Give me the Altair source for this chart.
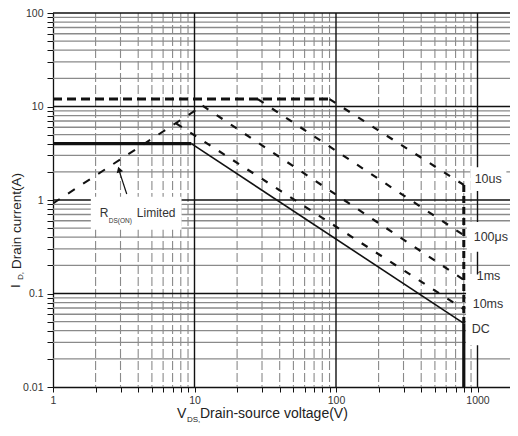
import altair as alt
import pandas as pd

# ---------------- axis structure ----------------
PLOT_W, PLOT_H = 457, 374
X_MIN, X_MAX = 1, 1697
Y_MIN, Y_MAX = 0.01, 100
x_decades = [1, 10, 100, 1000]
y_decades = [0.01, 0.1, 1, 10, 100]
minor_mult = [2, 3, 4, 5, 6, 7, 8, 9]

x_minor = [round(m * d, 6) for d in x_decades for m in minor_mult if m * d <= X_MAX]
y_minor = [round(m * d, 6) for d in y_decades[:-1] for m in minor_mult]
x_ticks = sorted(x_decades + x_minor)
y_ticks = sorted(y_decades + y_minor)

# ---------------- curves (V_DS [V], I_D [A]) ----------------
dc_flat_v, dc_flat_i = [1, 9.5], [4, 4]
dc_slope_v, dc_slope_i = [9.5, 800], [4, 0.048]
dc_vert_v, dc_vert_i = [800, 800], [0.048, 0.01]
pulse_max_v, pulse_max_i = [1, 90], [12, 12]
us10_v, us10_i = [90, 800], [12, 1.45]
us100_v, us100_i = [28, 800], [12, 0.42]
ms1_v, ms1_i = [11.4, 800], [10.2, 0.14]
ms10_v, ms10_i = [7.4, 800], [6.6, 0.068]
rds_v, rds_i = [1, 11.4], [0.92, 10.2]
pulse_vert_v, pulse_vert_i = [800, 800], [1.45, 0.048]

# ---------------- annotations ----------------
curve_labels = ["10us", "100μs", "1ms", "10ms", "DC"]
curve_label_v = [955, 940, 987, 925, 910]
curve_label_i = [1.67, 0.404, 0.152, 0.0764, 0.0414]

box_v1 = [1.85, 890, 840, 830]
box_v2 = [8.1, 1600, X_MAX, X_MAX]
box_i1 = [1.08, 2.24, 0.58, 0.16]
box_i2 = [0.48, 1.25, 0.28, 0.028]

FONT = "Liberation Sans"
INK = "#111111"


def X(field="v"):
    return alt.X(f"{field}:Q",
                 scale=alt.Scale(type="log", domain=[X_MIN, X_MAX], nice=False),
                 axis=alt.Axis(values=x_ticks, title=None, grid=False,
                               labelExpr="datum.value == 1 || datum.value == 10 || datum.value == 100 || datum.value == 1000 ? toString(datum.value) : ''",
                               tickSize=5, labelPadding=3, labelFontSize=10.5,
                               labelFont=FONT, labelColor="#333", domainColor=INK,
                               tickColor=INK, domainWidth=1.3, labelFlush=False))


def Y(field="i"):
    return alt.Y(f"{field}:Q",
                 scale=alt.Scale(type="log", domain=[Y_MIN, Y_MAX], nice=False),
                 axis=alt.Axis(values=y_ticks, title=None, grid=False,
                               labelExpr="datum.value == 0.01 || datum.value == 0.1 || datum.value == 1 || datum.value == 10 || datum.value == 100 ? toString(datum.value) : ''",
                               tickSize=6, labelPadding=4, labelFontSize=10.5,
                               labelFont=FONT, labelColor="#333", domainColor=INK,
                               tickColor=INK, domainWidth=1.3, labelFlush=False))


def seg(v, i, width, dash=None):
    kw = dict(color=INK, strokeWidth=width, clip=True)
    if dash:
        kw["strokeDash"] = dash
    return alt.Chart(pd.DataFrame({"v": v, "i": i})).mark_line(**kw).encode(x=X(), y=Y())


# gridlines
h_minor = alt.Chart(pd.DataFrame({"i": y_minor})).mark_rule(
    color="#8a8a8a", strokeWidth=1.3).encode(y=Y())
v_minor = alt.Chart(pd.DataFrame({"v": x_minor})).mark_rule(
    color="#8a8a8a", strokeWidth=1.1, strokeDash=[9, 3]).encode(x=X())
h_major = alt.Chart(pd.DataFrame({"i": y_decades[1:]})).mark_rule(
    color=INK, strokeWidth=1.4).encode(y=Y())
v_major = alt.Chart(pd.DataFrame({"v": x_decades[1:]})).mark_rule(
    color=INK, strokeWidth=1.4).encode(x=X())

boxes = alt.Chart(pd.DataFrame({"v": box_v1, "v2": box_v2, "i": box_i1, "i2": box_i2})).mark_rect(
    color="white").encode(x=X(), x2="v2:Q", y=Y(), y2="i2:Q")

curves = [
    seg(dc_flat_v, dc_flat_i, 3.2),
    seg(dc_slope_v, dc_slope_i, 1.6),
    seg(dc_vert_v, dc_vert_i, 3.2),
    seg(pulse_max_v, pulse_max_i, 3.0, [9, 5]),
    seg(us10_v, us10_i, 2.2, [7, 10]),
    seg(us100_v, us100_i, 2.2, [7, 10]),
    seg(ms1_v, ms1_i, 2.2, [7, 10]),
    seg(ms10_v, ms10_i, 2.2, [7, 10]),
    seg(rds_v, rds_i, 2.0, [8, 10]),
    seg(pulse_vert_v, pulse_vert_i, 3.0, [7, 4]),
]

labels = alt.Chart(pd.DataFrame({"v": curve_label_v, "i": curve_label_i, "t": curve_labels})).mark_text(
    align="left", baseline="middle", font=FONT, fontSize=12.5, color="#333").encode(
    x=X(), y=Y(), text="t:N")

rds_text = alt.Chart(pd.DataFrame({"v": [2.14, 3.91], "i": [0.727, 0.727], "t": ["R", "Limited"]})).mark_text(
    align="left", baseline="middle", font=FONT, fontSize=12, color="#333").encode(
    x=X(), y=Y(), text="t:N")
rds_sub = alt.Chart(pd.DataFrame({"v": [2.48], "i": [0.6], "t": ["DS(ON)"]})).mark_text(
    align="left", baseline="middle", font=FONT, fontSize=6.5, color="#333").encode(
    x=X(), y=Y(), text="t:N")

arrow_line = alt.Chart(pd.DataFrame({"v": [3.32], "i": [1.16], "v2": [2.92], "i2": [2.1]})).mark_rule(
    color=INK, strokeWidth=1.2).encode(x=X(), y=Y(), x2="v2:Q", y2="i2:Q")
arrow_head = alt.Chart(pd.DataFrame({"v": [2.93], "i": [2.12]})).mark_point(
    shape="triangle-up", filled=True, size=45, angle=343, color=INK, opacity=1).encode(x=X(), y=Y())


# axis titles with subscripts (pixel offsets from the plot origin)
def ptext(t, x, y, size, angle=0):
    kw = dict(text=t, align="left", baseline="alphabetic", font=FONT, fontSize=size, color="#222")
    if angle:
        kw["angle"] = angle
    return alt.Chart(pd.DataFrame({"a": [0]})).mark_text(**kw).encode(x=alt.value(x), y=alt.value(y))


titles = [
    ptext("V", 124, 405, 14),
    ptext("DS,", 134, 409, 8),
    ptext("Drain-source voltage(V)", 147, 405, 14),
    ptext("I", -33.5, 275, 13.5, 270),
    ptext("D,", -30.5, 267, 8, 270),
    ptext("Drain current(A)", -32.5, 256, 13.5, 270),
]

chart = alt.layer(
    h_minor, v_minor, h_major, v_major, boxes, *curves, labels, rds_text, rds_sub,
    arrow_line, arrow_head, *titles
).properties(
    width=PLOT_W, height=PLOT_H,
    padding={"left": 45, "top": 5, "right": 0, "bottom": 37},
    autosize=alt.AutoSizeParams(type="none"),
    background="white",
).configure_view(strokeWidth=0)

chart.save("out.html", embed_options={"renderer": "svg", "actions": False})
